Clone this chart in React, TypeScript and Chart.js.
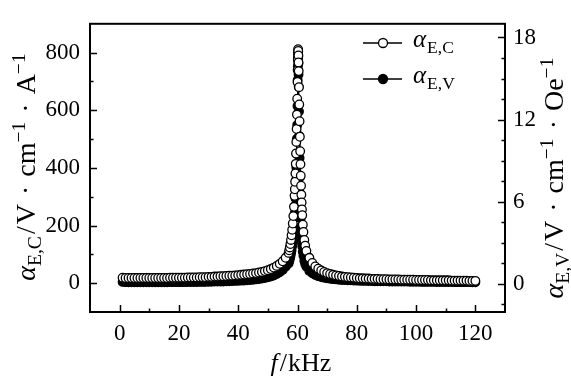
import React, { useEffect, useRef } from 'react';
import { Chart, registerables } from 'chart.js';

Chart.register(...registerables);

// ---------- data ----------
const freqLow = [1, 2, 3, 4, 5, 6, 7, 8, 9, 10, 11, 12, 13, 14, 15, 16, 17, 18, 19, 20, 21, 22, 23, 24, 25, 26, 27, 28, 29, 30, 31, 32, 33, 34, 35, 36, 37, 38, 39, 40, 41, 42, 43, 44, 45, 46, 47, 48, 49, 50, 51, 52, 53, 54, 55, 56];
const freqPeak = [57, 57.2, 57.4, 57.6, 57.8, 58, 58.2, 58.4, 58.6, 58.8, 59, 59.1, 59.2, 59.3, 59.4, 59.5, 59.6, 59.7, 59.8, 59.9, 60, 60.05, 60.1, 60.15, 60.2, 60.25, 60.3, 60.35, 60.4, 60.5, 60.6, 60.7, 60.8, 60.9, 61, 61.1, 61.2, 61.3, 61.4, 61.5, 61.6, 61.8, 62, 62.3, 62.6, 63];
const freqHigh = [64, 65, 66, 67, 68, 69, 70, 71, 72, 73, 74, 75, 76, 77, 78, 79, 80, 81, 82, 83, 84, 85, 86, 87, 88, 89, 90, 91, 92, 93, 94, 95, 96, 97, 98, 99, 100, 101, 102, 103, 104, 105, 106, 107, 108, 109, 110, 111, 112, 113, 114, 115, 116, 117, 118, 119, 120];

// alpha_E,C (left axis, V·cm^-1·A^-1)
const alphaCLow = [19, 18, 18, 18, 18, 18, 18, 18, 18, 18, 18, 18, 18, 18, 18, 18, 19, 19, 19, 19, 19, 19, 20, 20, 20, 20, 21, 21, 21, 22, 22, 23, 23, 24, 24, 25, 26, 26, 27, 28, 29, 30, 31, 32, 34, 35, 37, 39, 42, 45, 49, 54, 60, 67, 76, 88];
const alphaCPeak = [105, 114, 124, 136, 150, 166, 185, 207, 233, 265, 303, 326, 352, 381, 414, 450, 490, 535, 585, 640, 698, 740, 775, 800, 812, 806, 790, 766, 736, 680, 620, 562, 508, 458, 413, 373, 338, 307, 280, 256, 236, 203, 178, 150, 130, 112];
const alphaCHigh = [88, 70, 58, 50, 44, 39, 35, 32, 29, 27, 25, 23, 22, 21, 20, 19, 18, 17, 17, 16, 16, 15, 15, 15, 14, 14, 14, 13, 13, 13, 13, 12, 12, 12, 12, 12, 11, 11, 11, 11, 11, 10, 10, 10, 10, 10, 10, 10, 9, 9, 9, 9, 9, 9, 8, 8, 8];

// alpha_E,V (right axis, V·cm^-1·Oe^-1)
const alphaVLow = [0.15, 0.13, 0.12, 0.12, 0.12, 0.12, 0.12, 0.12, 0.12, 0.12, 0.12, 0.12, 0.12, 0.12, 0.12, 0.12, 0.13, 0.13, 0.13, 0.13, 0.13, 0.13, 0.14, 0.14, 0.14, 0.14, 0.15, 0.15, 0.15, 0.16, 0.16, 0.17, 0.17, 0.18, 0.18, 0.19, 0.2, 0.21, 0.22, 0.23, 0.24, 0.25, 0.27, 0.29, 0.31, 0.33, 0.36, 0.39, 0.43, 0.48, 0.54, 0.62, 0.72, 0.85, 1.02, 1.25];
const alphaVPeak = [1.5, 1.65, 1.8, 1.98, 2.2, 2.45, 2.75, 3.1, 3.55, 4.1, 4.8, 5.2, 5.7, 6.25, 6.9, 7.6, 8.5, 9.5, 10.6, 11.6, 13.0, 14.9, 15.9, 16.5, 16.8, 16.6, 16.1, 15.3, 14.4, 12.6, 10.8, 9.2, 7.8, 6.6, 5.6, 4.8, 4.2, 3.7, 3.3, 3.0, 2.75, 2.35, 2.05, 1.7, 1.45, 1.25];
const alphaVHigh = [0.95, 0.78, 0.66, 0.57, 0.5, 0.45, 0.41, 0.38, 0.35, 0.33, 0.31, 0.29, 0.28, 0.27, 0.26, 0.25, 0.24, 0.23, 0.22, 0.22, 0.21, 0.21, 0.2, 0.2, 0.19, 0.19, 0.19, 0.18, 0.18, 0.18, 0.17, 0.17, 0.17, 0.17, 0.16, 0.16, 0.16, 0.16, 0.15, 0.15, 0.15, 0.15, 0.15, 0.14, 0.14, 0.14, 0.14, 0.14, 0.14, 0.13, 0.13, 0.13, 0.13, 0.13, 0.13, 0.12, 0.12];

// ticks
const xTickValues = [0, 10, 20, 30, 40, 50, 60, 70, 80, 90, 100, 110, 120];
const xTickLabels = [0, 20, 40, 60, 80, 100, 120];
const leftTickValues = [0, 100, 200, 300, 400, 500, 600, 700, 800];
const leftTickLabels = [0, 200, 400, 600, 800];
const rightTickValues = [-1.5, 0, 1.5, 3, 4.5, 6, 7.5, 9, 10.5, 12, 13.5, 15, 16.5, 18];
const rightTickLabels = [0, 6, 12, 18];

const seriesSubC = 'E,C';
const seriesSubV = 'E,V';

// ---------- drawing helpers ----------
const FONT = "'Liberation Serif', 'Times New Roman', serif";
const TICK_SIZE = 23;
const TITLE_SIZE = 28;
const XTITLE_SIZE = 26;
const LEGEND_SIZE = 25;

interface Part { t: string; it?: boolean; lvl?: number; gl?: number; gr?: number }

function partFont(p: Part, size: number) {
  const s = p.lvl ? size * 0.7 : size;
  return `${p.it ? 'italic ' : ''}${s}px ${FONT}`;
}
function measureParts(ctx: CanvasRenderingContext2D, parts: Part[], size: number) {
  let w = 0;
  for (const p of parts) {
    ctx.font = partFont(p, size);
    w += (p.gl || 0) + ctx.measureText(p.t).width + (p.gr || 0);
  }
  return w;
}
function drawParts(ctx: CanvasRenderingContext2D, parts: Part[], size: number, x: number, y: number) {
  for (const p of parts) {
    ctx.font = partFont(p, size);
    x += p.gl || 0;
    const dy = p.lvl === -1 ? size * 0.22 : p.lvl === 1 ? -size * 0.36 : 0;
    ctx.fillText(p.t, x, y + dy);
    x += ctx.measureText(p.t).width + (p.gr || 0);
  }
}

const DOT_GAP = 9;
const leftTitle: Part[] = [
  { t: 'α', it: true }, { t: seriesSubC, lvl: -1, gr: 2 }, { t: '/', gr: 2 }, { t: 'V' },
  { t: '·', gl: DOT_GAP, gr: DOT_GAP }, { t: 'cm' }, { t: '−1', lvl: 1 },
  { t: '·', gl: DOT_GAP, gr: DOT_GAP }, { t: 'A' }, { t: '−1', lvl: 1 },
];
const rightTitle: Part[] = [
  { t: 'α', it: true }, { t: seriesSubV, lvl: -1, gr: 2 }, { t: '/', gr: 2 }, { t: 'V' },
  { t: '·', gl: DOT_GAP, gr: DOT_GAP }, { t: 'cm' }, { t: '−1', lvl: 1 },
  { t: '·', gl: DOT_GAP, gr: DOT_GAP }, { t: 'Oe' }, { t: '−1', lvl: 1 },
];
const xTitle: Part[] = [{ t: 'f', it: true, gr: 2 }, { t: '/', gr: 1 }, { t: 'kHz' }];

const decorPlugin = {
  id: 'decor',
  afterDraw(chart: any) {
    const ctx: CanvasRenderingContext2D = chart.ctx;
    const { left, right, top, bottom } = chart.chartArea;
    const xs = chart.scales.x, yl = chart.scales.y, yr = chart.scales.y1;
    ctx.save();
    ctx.strokeStyle = '#000';
    ctx.fillStyle = '#000';
    // box
    ctx.lineWidth = 2;
    ctx.strokeRect(left, top, right - left, bottom - top);
    // ticks (inward)
    ctx.lineWidth = 1.5;
    ctx.beginPath();
    for (const t of xs.ticks) {
      const px = Math.round(xs.getPixelForValue(t.value)) + 0.5;
      const len = xTickLabels.includes(t.value) ? 7 : 3.5;
      ctx.moveTo(px, bottom); ctx.lineTo(px, bottom - len);
    }
    for (const t of yl.ticks) {
      const py = Math.round(yl.getPixelForValue(t.value)) + 0.5;
      const len = leftTickLabels.includes(t.value) ? 7 : 3.5;
      ctx.moveTo(left, py); ctx.lineTo(left + len, py);
    }
    for (const t of yr.ticks) {
      const py = Math.round(yr.getPixelForValue(t.value)) + 0.5;
      const len = rightTickLabels.includes(t.value) ? 7 : 3.5;
      ctx.moveTo(right, py); ctx.lineTo(right - len, py);
    }
    ctx.stroke();

    ctx.textAlign = 'left';
    ctx.textBaseline = 'alphabetic';
    // x title
    const wx = measureParts(ctx, xTitle, XTITLE_SIZE);
    drawParts(ctx, xTitle, XTITLE_SIZE, 301 - wx / 2, 371);
    // left title
    const wl = measureParts(ctx, leftTitle, TITLE_SIZE);
    ctx.save();
    ctx.translate(35, 167);
    ctx.rotate(-Math.PI / 2);
    drawParts(ctx, leftTitle, TITLE_SIZE, -wl / 2, 0);
    ctx.restore();
    // right title
    const wr = measureParts(ctx, rightTitle, TITLE_SIZE);
    ctx.save();
    ctx.translate(563, 178);
    ctx.rotate(-Math.PI / 2);
    drawParts(ctx, rightTitle, TITLE_SIZE, -wr / 2, 0);
    ctx.restore();

    // legend
    const rows = [
      { y: 43, fill: '#fff', sub: seriesSubC },
      { y: 79, fill: '#000', sub: seriesSubV },
    ];
    for (const r of rows) {
      ctx.lineWidth = 1.3;
      ctx.beginPath();
      ctx.moveTo(363, r.y); ctx.lineTo(402, r.y);
      ctx.stroke();
      ctx.beginPath();
      ctx.arc(383, r.y, 4.5, 0, Math.PI * 2);
      ctx.fillStyle = r.fill;
      ctx.fill();
      ctx.stroke();
      ctx.fillStyle = '#000';
      drawParts(ctx, [{ t: 'α', it: true, gr: 1 }, { t: r.sub, lvl: -1 }], LEGEND_SIZE, 413, r.y + 4);
    }
    ctx.restore();
  },
};

export default function App() {
  const ref = useRef<HTMLCanvasElement>(null);
  useEffect(() => {
    const freq = [...freqLow, ...freqPeak, ...freqHigh];
    const alphaC = [...alphaCLow, ...alphaCPeak, ...alphaCHigh];
    const alphaV = [...alphaVLow, ...alphaVPeak, ...alphaVHigh];
    const tickFont = { family: FONT, size: TICK_SIZE };
    const gridOpts = { display: false, drawTicks: false };
    const chart = new Chart(ref.current as HTMLCanvasElement, {
      type: 'scatter',
      data: {
        datasets: [
          {
            label: 'αE,C',
            data: freq.map((f, i) => ({ x: f, y: alphaC[i] })),
            yAxisID: 'y',
            showLine: true,
            borderColor: '#000',
            borderWidth: 1,
            pointRadius: 4.3,
            pointBackgroundColor: '#fff',
            pointBorderColor: '#000',
            pointBorderWidth: 1.3,
          },
          {
            label: 'αE,V',
            data: freq.map((f, i) => ({ x: f, y: alphaV[i] })),
            yAxisID: 'y1',
            showLine: true,
            borderColor: '#000',
            borderWidth: 1,
            pointRadius: 4.3,
            pointBackgroundColor: '#000',
            pointBorderColor: '#000',
            pointBorderWidth: 1.3,
          },
        ],
      },
      options: {
        animation: false,
        responsive: false,
        devicePixelRatio: 1,
        layout: { padding: { top: 6, left: 0, right: 0, bottom: 0 } },
        plugins: { legend: { display: false }, tooltip: { enabled: false } },
        scales: {
          x: {
            type: 'linear',
            position: 'bottom',
            min: -10,
            max: 130,
            grid: gridOpts,
            border: { display: false },
            afterBuildTicks: (s: any) => { s.ticks = xTickValues.map((v) => ({ value: v })); },
            afterFit: (s: any) => { s.height = 69; },
            ticks: {
              autoSkip: false,
              maxRotation: 0,
              padding: 8,
              color: '#000',
              font: tickFont,
              callback: (v: any) => (xTickLabels.includes(Number(v)) ? String(v) : ''),
            },
          },
          y: {
            type: 'linear',
            position: 'left',
            min: -100,
            max: 900,
            grid: gridOpts,
            border: { display: false },
            afterBuildTicks: (s: any) => { s.ticks = leftTickValues.map((v) => ({ value: v })); },
            afterFit: (s: any) => { s.width = 90; },
            ticks: {
              autoSkip: false,
              padding: 10,
              color: '#000',
              font: tickFont,
              callback: (v: any) => (leftTickLabels.includes(Number(v)) ? String(v) : ''),
            },
          },
          y1: {
            type: 'linear',
            position: 'right',
            min: -2.05,
            max: 19,
            grid: gridOpts,
            border: { display: false },
            afterBuildTicks: (s: any) => { s.ticks = rightTickValues.map((v) => ({ value: v })); },
            afterFit: (s: any) => { s.width = 66; },
            ticks: {
              autoSkip: false,
              padding: 8,
              color: '#000',
              font: tickFont,
              callback: (v: any) => (rightTickLabels.includes(Number(v)) ? String(v) : ''),
            },
          },
        },
      },
      plugins: [decorPlugin],
    } as any);
    return () => chart.destroy();
  }, []);
  return (
    <div style={{ position: 'fixed', left: 0, top: 0, width: 571, height: 381, background: '#fff' }}>
      <canvas ref={ref} width={571} height={381} style={{ width: 571, height: 381, display: 'block' }} />
    </div>
  );
}
